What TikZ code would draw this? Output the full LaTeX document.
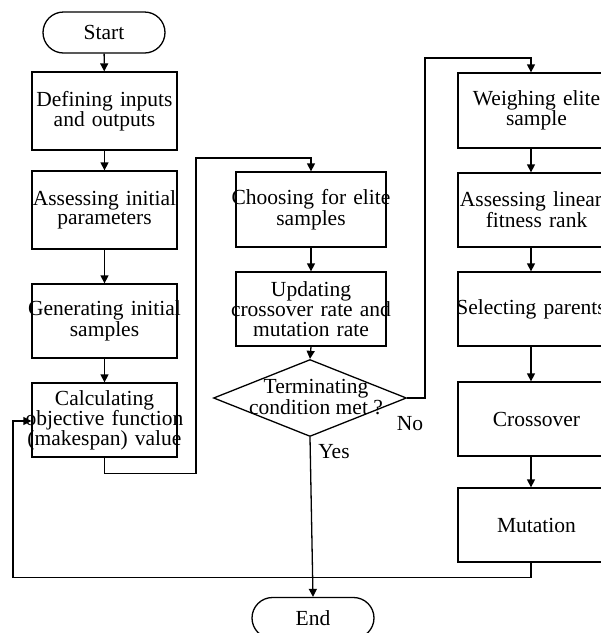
\documentclass[tikz,border=0pt]{standalone}
\usepackage{fontspec}
\setmainfont{Liberation Serif}
\usetikzlibrary{shapes.geometric,shapes.misc,arrows.meta}
\newcommand{\ovl}[1]{\makebox[0pt][c]{#1}}
\newcommand{\ovr}[1]{\makebox[0pt][c]{\hspace{11pt}#1}}
\begin{document}
\begin{tikzpicture}[x=1pt,y=-1pt,
  line width=1.3pt,
  every node/.style={font=\fontsize{21.5}{19.5}\selectfont, inner sep=0pt},
  box/.style={draw, rectangle, align=center, text width=#1, minimum width=#1},
  box/.default=145pt,
  term/.style={draw, rounded rectangle, minimum width=122, minimum height=41},
  arr/.style={-{Triangle[width=8pt,length=8pt]}},
  lbl/.style={font=\fontsize{21.5}{19.5}\selectfont}
]
\useasboundingbox (0,0) rectangle (601,633);
\clip (0,0) rectangle (601,633);
% left column
\node[term] (start) at (104,32.5) {Start};
\node[box, minimum height=78] (b1) at (104.5,111) {\ovl{Defining inputs}\\\ovl{and outputs}};
\node[box, minimum height=78] (b2) at (104.5,210) {\ovl{Assessing initial}\\\ovl{parameters}};
\node[box, minimum height=74] (b3) at (104.5,321) {\ovl{Generating initial}\\\ovl{samples}};
\node[box, minimum height=74] (b4) at (104.5,420) {\ovl{Calculating}\\\ovl{objective function}\\\ovl{(makespan) value}};
% middle column
\node[box=150pt, minimum height=75] (c1) at (311,209.5) {\ovl{Choosing for elite}\\\ovl{samples}};
\node[box=150pt, minimum height=74] (c2) at (311,309) {\ovl{Updating}\\\ovl{crossover rate and}\\\ovl{mutation rate}};
\node[draw, diamond, minimum width=193, minimum height=77] (dia) at (310,398) {};
\node[align=center] (diat) at (316,397) {Terminating\\condition met ?};
\node[term] (end) at (313,618) {End};
% right column
\node[box=146pt, minimum height=75] (r1) at (531,110.5) {\ovr{Weighing elite}\\\ovr{sample}};
\node[box=146pt, minimum height=74] (r2) at (531,210) {\ovl{Assessing linear}\\\ovr{fitness rank}};
\node[box=146pt, minimum height=74] (r3) at (531,309) {\ovl{Selecting parents}};
\node[box=146pt, minimum height=74] (r4) at (531,419) {\ovr{Crossover}};
\node[box=146pt, minimum height=74] (r5) at (531,525) {\ovr{Mutation}};
% labels
\node[lbl] (no) at (410,424) {No};
\node[lbl] (yes) at (334,452) {Yes};
% connectors
\draw[arr] (start) -- (b1);
\draw[arr] (b1) -- (b2);
\draw[arr] (b2) -- (b3);
\draw[arr] (b3) -- (b4);
\draw[arr] (b4.south) -- ++(0,16) -| (196,158) -| (c1.north);
\draw[arr] (c1) -- (c2);
\draw[arr] (c2.south) -- (dia.north);
\draw[arr] (dia.east) -| (425,58) -| (r1.north);
\draw[arr] (dia.south) -- (end.north);
\draw[arr] (r1) -- (r2);
\draw[arr] (r2) -- (r3);
\draw[arr] (r3) -- (r4);
\draw[arr] (r4) -- (r5);
\draw[arr] (r5.south) -- ++(0,15) -| (13,421) -- (b4.west |- 0,421);
\end{tikzpicture}
\end{document}
